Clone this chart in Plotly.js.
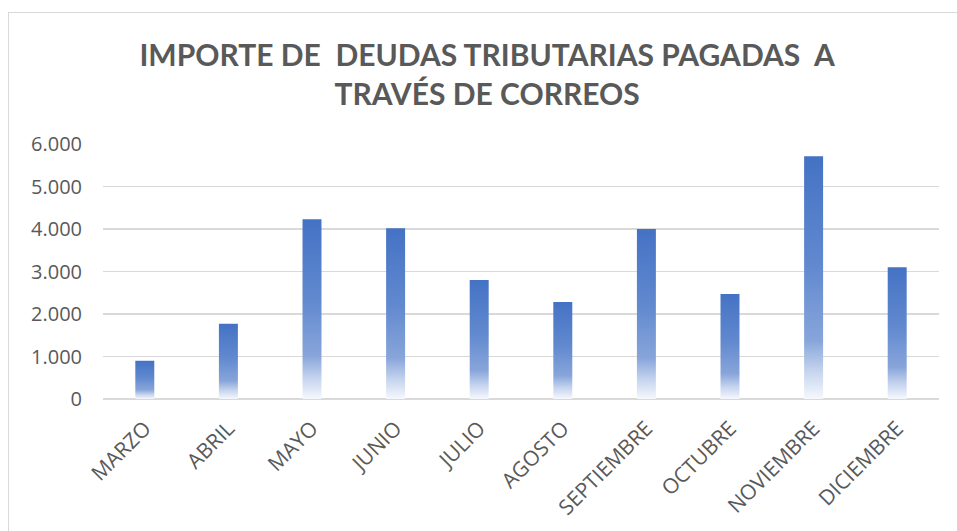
<!DOCTYPE html>
<html>
<head>
<meta charset="utf-8">
<script src="https://cdn.plot.ly/plotly-3.0.1.min.js"></script>
<style>
  html, body { margin: 0; padding: 0; background: #ffffff; }
  #wrap { position: relative; width: 957px; height: 531px; overflow: hidden; }
  #chart { position: absolute; left: 0; top: 0; width: 957px; height: 531px; }
  #frame { position: absolute; left: 8px; top: 12px; right: -4px; bottom: -4px;
           border-left: 1.5px solid #d9d9d9; border-top: 1.5px solid #d9d9d9;
           pointer-events: none; }
</style>
</head>
<body>
<div id="wrap">
  <div id="chart"></div>
  <div id="frame"></div>
</div>
<script>
// ---- data ----
const months = ["MARZO", "ABRIL", "MAYO", "JUNIO", "JULIO", "AGOSTO",
                "SEPTIEMBRE", "OCTUBRE", "NOVIEMBRE", "DICIEMBRE"];
const amounts = [900, 1770, 4230, 4020, 2800, 2280, 4000, 2470, 5710, 3100];
const yTicks = [0, 1000, 2000, 3000, 4000, 5000, 6000];
const chartTitle = "IMPORTE DE \u00a0DEUDAS TRIBUTARIAS PAGADAS \u00a0A<br>TRAVÉS DE CORREOS";

const gray = "#595959";

const trace = {
  type: "bar",
  x: months,
  y: amounts,
  marker: { color: "#4472c4", line: { width: 0 } },
  hoverinfo: "x+y"
};

const layout = {
  width: 957,
  height: 531,
  margin: { l: 103, r: 18, t: 144, b: 132 },
  paper_bgcolor: "rgba(0,0,0,0)",
  plot_bgcolor: "rgba(0,0,0,0)",
  separators: ",.",
  bargap: 0.773,
  showlegend: false,
  title: {
    text: chartTitle,
    font: { family: "Lato, 'Open Sans', sans-serif", size: 30, color: gray, weight: "bold" },
    xref: "container", x: 0.509, xanchor: "center",
    yref: "container", y: 0.876, yanchor: "middle"
  },
  xaxis: {
    type: "category",
    tickangle: -45,
    tickfont: { family: "'Open Sans', sans-serif", size: 21, color: gray },
    ticklabelstandoff: 12,
    showgrid: false,
    showline: false,
    ticks: "",
    zeroline: false
  },
  yaxis: {
    range: [0, 6000],
    tickvals: yTicks,
    tickformat: ",d",
    tickfont: { family: "'Open Sans', sans-serif", size: 20, color: gray },
    ticklabelstandoff: 20,
    showgrid: true,
    gridcolor: "#d9d9d9",
    gridwidth: 1.3,
    zeroline: true,
    zerolinecolor: "#d9d9d9",
    zerolinewidth: 2,
    showline: false,
    ticks: ""
  }
};

function applyGradient(gd) {
  const svg = gd.querySelector(".main-svg");
  if (!svg) return;
  const ns = "http://www.w3.org/2000/svg";
  let defs = svg.querySelector("defs");
  if (!defs) { defs = document.createElementNS(ns, "defs"); svg.insertBefore(defs, svg.firstChild); }
  if (!svg.querySelector("#barGrad")) {
    const g = document.createElementNS(ns, "linearGradient");
    g.setAttribute("id", "barGrad");
    g.setAttribute("x1", "0"); g.setAttribute("y1", "0");
    g.setAttribute("x2", "0"); g.setAttribute("y2", "1");
    const stops = [
      [0.00, "#4472c4"],
      [0.45, "#6189cf"],
      [0.76, "#88a5da"],
      [0.88, "#c3d2ed"],
      [1.00, "#f6f8fd"]
    ];
    stops.forEach(([o, c]) => {
      const s = document.createElementNS(ns, "stop");
      s.setAttribute("offset", o);
      s.setAttribute("stop-color", c);
      g.appendChild(s);
    });
    defs.appendChild(g);
  }
  gd.querySelectorAll(".bars .point path").forEach(p => { p.style.fill = "url(#barGrad)"; });
}

Plotly.newPlot("chart", [trace], layout, { displayModeBar: false, staticPlot: true })
  .then(gd => { applyGradient(gd); });
</script>
</body>
</html>
